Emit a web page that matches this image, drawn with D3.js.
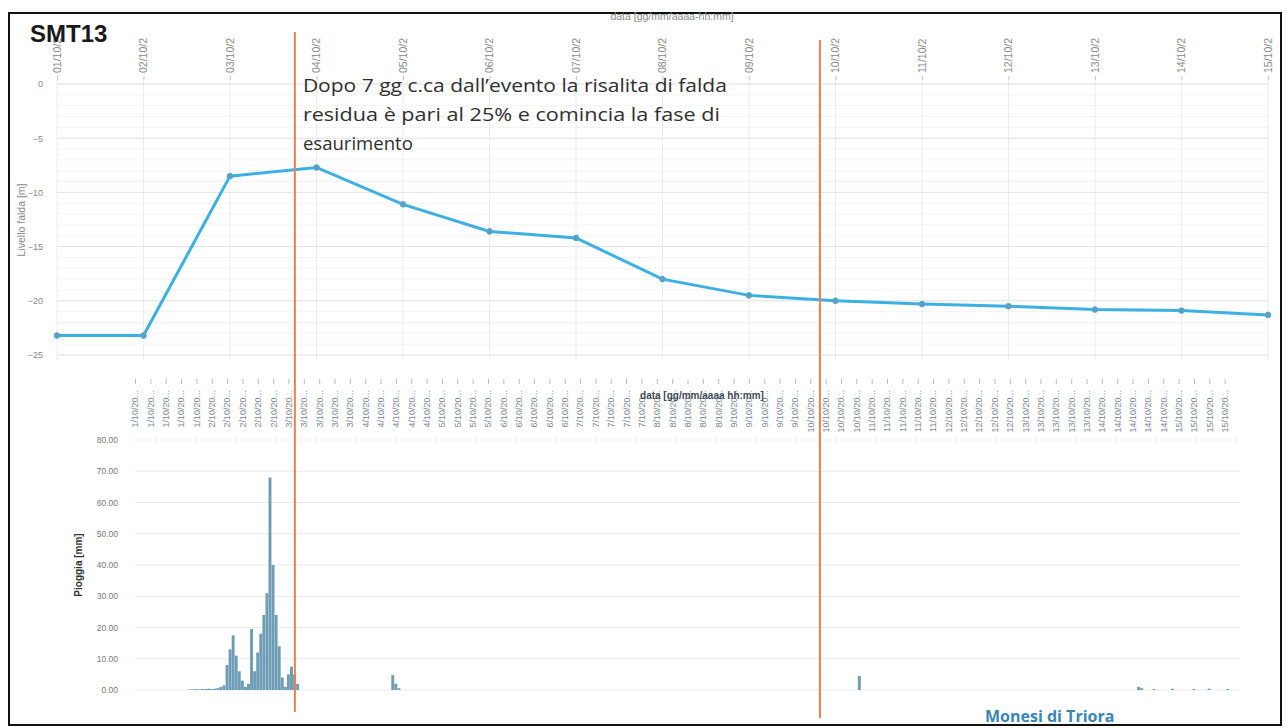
<!DOCTYPE html>
<html>
<head>
<meta charset="utf-8">
<script src="https://cdn.jsdelivr.net/npm/d3@7"></script>
<style>
  body { margin: 0; background: #fff; }
  svg { display: block; font-family: "Liberation Sans", Arial, sans-serif; }
</style>
</head>
<body>
<div id="block"></div>
<script>
// groundwater level, one reading a day (01/10 .. 15/10)
var levelDates = ["01/10/2", "02/10/2", "03/10/2", "04/10/2", "05/10/2", "06/10/2", "07/10/2", "08/10/2",
                  "09/10/2", "10/10/2", "11/10/2", "12/10/2", "13/10/2", "14/10/2", "15/10/2"];
var levelValues = [-23.2, -23.2, -8.5, -7.7, -11.1, -13.6, -14.2, -18.0, -19.5, -20.0, -20.3, -20.5, -20.8, -20.9, -21.3];
var levelTicks = [0, -5, -10, -15, -20, -25];

// hourly rain, hours counted from 1/10 00:00
var rainHour = [18, 19, 20, 21, 22, 23, 24, 25, 26, 27, 28, 29, 30, 31, 32, 33, 34, 35, 36, 37,
                38, 39, 40, 41, 42, 43, 44, 45, 46, 47, 48, 49, 50, 51, 52, 53,
                84, 85, 86, 236, 327, 328, 332, 338, 345, 350, 356];
var rainMm = [0.2, 0.2, 0.3, 0.2, 0.3, 0.3, 0.4, 0.3, 0.4, 0.6, 1.0, 1.5, 8, 13, 17.5, 11, 6, 3, 1, 2,
              19.5, 6, 12, 18, 24, 31, 68, 40, 24, 14, 4, 1, 5, 7.5, 5, 2,
              4.8, 2, 0.6, 4.5, 1.0, 0.6, 0.3, 0.4, 0.3, 0.4, 0.3];
var rainTicks = [0, 10, 20, 30, 40, 50, 60, 70, 80];

// vertical markers (in days from 01/10) and note
var markerDays = [2.75, 8.82];
var noteLines = ["Dopo 7 gg c.ca dall\u2019evento la risalita di falda",
                 "residua \u00e8 pari al 25% e comincia la fase di",
                 "esaurimento"];

var W = 1287, H = 728;
var svg = d3.select("#block").append("svg").attr("width", W).attr("height", H);

// frame
svg.append("rect").attr("x", 9).attr("y", 13).attr("width", 1272).attr("height", 712)
   .attr("fill", "none").attr("stroke", "#111").attr("stroke-width", 2);

// ---------- top chart ----------
var x1 = d3.scaleLinear().domain([0, levelDates.length - 1]).range([57, 1268]);
var y1 = d3.scaleLinear().domain([-25, 0]).range([355, 84]);

var g1 = svg.append("g");

// minor grid
g1.append("g").selectAll("line").data(d3.range(-25, 1, 1)).enter().append("line")
  .attr("x1", x1(0)).attr("x2", x1(14)).attr("y1", d => y1(d)).attr("y2", d => y1(d))
  .attr("stroke", "#f3f3f3").attr("stroke-width", 1);
// vertical grid
g1.append("g").selectAll("line").data(levelDates).enter().append("line")
  .attr("x1", (d, i) => x1(i)).attr("x2", (d, i) => x1(i)).attr("y1", 76).attr("y2", 360)
  .attr("stroke", "#ececec").attr("stroke-width", 1);
// major grid
g1.append("g").selectAll("line").data(levelTicks).enter().append("line")
  .attr("x1", x1(0)).attr("x2", x1(14)).attr("y1", d => y1(d)).attr("y2", d => y1(d))
  .attr("stroke", "#e4e4e4").attr("stroke-width", 1);

var yAxis1 = d3.axisLeft(y1).tickValues(levelTicks).tickSize(0).tickPadding(14);
g1.append("g").attr("transform", "translate(" + x1(0) + ",0)").call(yAxis1)
  .call(a => a.select(".domain").remove())
  .selectAll("text").attr("fill", "#888").attr("font-size", 9);

var xAxis1 = d3.axisTop(x1).tickValues(d3.range(levelDates.length))
  .tickFormat(i => levelDates[i]).tickSize(4).tickPadding(3);
var xa1 = g1.append("g").attr("transform", "translate(0,80)").call(xAxis1);
xa1.select(".domain").remove();
xa1.selectAll(".tick line").attr("stroke", "#ccc");
xa1.selectAll("text").attr("fill", "#888").attr("font-size", 10.5)
   .attr("transform", "rotate(-90)").attr("text-anchor", "start")
   .attr("x", 7).attr("y", 0).attr("dy", "0.32em");

g1.append("text").attr("x", 672).attr("y", 20).attr("text-anchor", "middle")
  .attr("fill", "#8a8a8a").attr("font-size", 10.5).text("data [gg/mm/aaaa-hh:mm]");
g1.append("text").attr("transform", "translate(25,220) rotate(-90)").attr("text-anchor", "middle")
  .attr("fill", "#8a8a8a").attr("font-size", 10.5).text("Livello falda [m]");

var line = d3.line().x((d, i) => x1(i)).y(d => y1(d));
g1.append("path").datum(levelValues).attr("d", line)
  .attr("fill", "none").attr("stroke", "#3db0e3").attr("stroke-width", 3);
g1.append("g").selectAll("circle").data(levelValues).enter().append("circle")
  .attr("cx", (d, i) => x1(i)).attr("cy", d => y1(d)).attr("r", 2.8)
  .attr("fill", "#6a9ab3").attr("stroke", "#3db0e3").attr("stroke-width", 1);

// ---------- bottom chart ----------
var x2 = d3.scaleLinear().domain([0, 360]).range([135, 1240]);
var y2 = d3.scaleLinear().domain([0, 80]).range([690, 440]);
var g2 = svg.append("g");

g2.append("g").selectAll("line").data(rainTicks).enter().append("line")
  .attr("x1", x2(0)).attr("x2", x2(360)).attr("y1", d => y2(d)).attr("y2", d => y2(d))
  .attr("stroke", d => d === 80 ? "#dde3e8" : "#e9e9e9")
  .attr("stroke-dasharray", d => d === 80 ? "2,3" : null);

var yAxis2 = d3.axisLeft(y2).tickValues(rainTicks).tickFormat(d3.format(".2f")).tickSize(0).tickPadding(17);
g2.append("g").attr("transform", "translate(" + x2(0) + ",0)").call(yAxis2)
  .call(a => a.select(".domain").remove())
  .selectAll("text").attr("fill", "#777").attr("font-size", 8.5);

var xAxis2 = d3.axisTop(x2).tickValues(d3.range(0, 360, 5))
  .tickFormat(h => (Math.floor(h / 24) + 1) + "/10/20...").tickSize(5).tickPadding(2);
var xa2 = g2.append("g").attr("transform", "translate(0,389)").call(xAxis2);
xa2.select(".domain").remove();
xa2.selectAll(".tick line").attr("stroke", "#bbb").attr("transform", "translate(0,-5)");
xa2.selectAll("text").attr("fill", "#7a8796").attr("font-size", 9)
   .attr("transform", "rotate(-90)").attr("text-anchor", "end")
   .attr("x", -1).attr("y", 0).attr("dy", "0.32em");

g2.append("text").attr("x", 702).attr("y", 399).attr("text-anchor", "middle")
  .attr("fill", "#3c4a5a").attr("font-size", 10).attr("font-weight", "bold")
  .text("data [gg/mm/aaaa hh:mm]");
g2.append("text").attr("transform", "translate(82,565) rotate(-90)").attr("text-anchor", "middle")
  .attr("fill", "#333").attr("font-size", 10).attr("font-weight", "bold").text("Pioggia [mm]");

var bw = x2(1) - x2(0);
g2.append("g").selectAll("rect").data(rainHour).enter().append("rect")
  .attr("x", d => x2(d) - bw / 2).attr("width", bw * 0.95)
  .attr("y", (d, i) => y2(rainMm[i])).attr("height", (d, i) => y2(0) - y2(rainMm[i]))
  .attr("fill", "#6f9db5");

// ---------- overlays ----------
svg.append("g").selectAll("line").data(markerDays).enter().append("line")
  .attr("x1", d => x1(d)).attr("x2", d => x1(d))
  .attr("y1", (d, i) => i === 0 ? 32 : 40).attr("y2", (d, i) => i === 0 ? 712 : 718)
  .attr("stroke", "#ec7f4e").attr("stroke-width", 2);

// note, stretched to the width it takes in the original
var noteWidth = [424, 417, 110];
svg.append("g").selectAll("text").data(noteLines).enter().append("text")
  .attr("x", x1(markerDays[0]) + 8).attr("y", (d, i) => 92 + i * 29)
  .attr("fill", "#2f2f2f").attr("font-size", 19)
  .attr("textLength", (d, i) => noteWidth[i]).attr("lengthAdjust", "spacingAndGlyphs")
  .attr("font-family", "'Open Sans', sans-serif").text(d => d);

svg.append("text").attr("x", 30).attr("y", 42).attr("font-size", 24).attr("font-weight", "bold")
  .attr("fill", "#1a1a1a").text("SMT13");

svg.append("text").attr("x", 985).attr("y", 722).attr("font-size", 16).attr("font-weight", "bold")
  .attr("fill", "#3a86b3").attr("font-family", "'Open Sans', sans-serif").text("Monesi di Triora");
</script>
</body>
</html>
